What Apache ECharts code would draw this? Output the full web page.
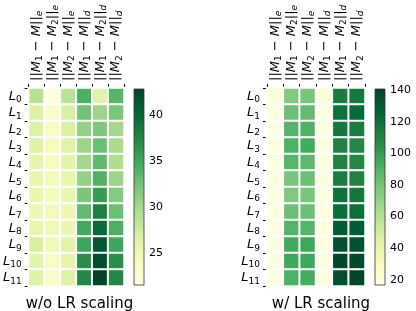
<!DOCTYPE html>
<html><head><meta charset="utf-8">
<script src="https://cdn.jsdelivr.net/npm/echarts@6.0.0/dist/echarts.min.js"></script>
<style>html,body{margin:0;padding:0;background:#fff}#c{width:416px;height:311px}</style>
</head><body><div id="c"></div>
<script>
// ---- data ----
const rowLabels = ['0','1','2','3','4','5','6','7','8','9','10','11'];
// column label parts: [first index, second index ('' = M), norm subscript]
const colParts = [['1','','e'],['1','2','e'],['2','','e'],['1','','d'],['1','2','d'],['2','','d']];
const leftValues = [
  [28.9,22.0,28.7,34.3,26.2,33.8],
  [26.6,23.4,26.8,32.4,30.4,32.0],
  [26.4,23.8,26.6,30.8,31.9,30.0],
  [26.3,24.2,26.2,30.4,32.8,29.6],
  [25.8,24.2,25.9,30.0,33.3,29.3],
  [25.4,24.3,25.5,30.8,34.2,30.4],
  [25.2,24.3,25.3,32.0,35.8,31.6],
  [25.0,24.5,25.0,33.2,37.9,32.7],
  [25.4,24.7,25.2,34.8,39.7,34.4],
  [26.9,24.7,26.2,35.2,41.4,35.2],
  [25.9,23.8,25.8,36.8,42.1,36.8],
  [26.3,23.4,26.4,37.3,42.8,37.3]
];
const rightValues = [
  [22,76,79,21,114,116],
  [18,82,85,19,120,124],
  [18,89,91,19,116,114],
  [18,91,94,19,111,109],
  [18,88,86,19,111,109],
  [18,79,82,19,114,111],
  [18,77,79,19,119,116],
  [18,82,82,19,122,121],
  [18,89,89,19,131,131],
  [18,94,96,19,135,135],
  [18,95,96,19,140,139],
  [18,91,93,19,137,141]
];
const leftRange = [21.5, 42.8];
const rightRange = [16.6, 141];
const leftTicks = [25,30,35,40];
const rightTicks = [20,40,60,80,100,120,140];
const titles = ['w/o LR scaling','w/ LR scaling'];

// ---- helpers ----
const FONT = 'DejaVu Sans';
const YlGn = ['#ffffe5','#f7fcb9','#d9f0a3','#addd8e','#78c679','#41ab5d','#238443','#006837','#004529'];
const colCats = colParts.map((p,i)=>'c'+i);
function colFmt(v){
  const p = colParts[+v.slice(1)];
  let s = '{b|||}{m|M}{s|'+p[0]+'}{b| − }{m|M}';
  if (p[1]) s += '{s|'+p[1]+'}';
  s += '{b|||}{si|'+p[2]+'}';
  return s;
}
function rowFmt(v){ return '{m|L}{s|'+v+'}'; }
const richCol = {
  b:{fontFamily:FONT,fontSize:13,lineHeight:16,color:'#000'},
  m:{fontFamily:FONT,fontSize:13,fontStyle:'italic',lineHeight:16,color:'#000'},
  s:{fontFamily:FONT,fontSize:9,lineHeight:9,verticalAlign:'bottom',color:'#000'},
  si:{fontFamily:FONT,fontSize:9,fontStyle:'italic',lineHeight:9,verticalAlign:'bottom',color:'#000'}
};
function toData(vals){
  const d=[];
  vals.forEach((r,i)=>r.forEach((v,j)=>d.push([j,i,v])));
  return d;
}
function cbRender(params, api){
  const a = api.coord([api.value(0), api.value(3)]);
  const b = api.coord([api.value(1), api.value(2)]);
  const stops = YlGn.map((c,i)=>({offset:i/(YlGn.length-1), color:c}));
  return {type:'rect', shape:{x:a[0], y:a[1], width:b[0]-a[0], height:b[1]-a[1]},
    style:{fill:new echarts.graphic.LinearGradient(0,1,0,0,stops), stroke:'#333', lineWidth:0.8}};
}

const hmGrids = [{left:25,top:88,width:99,height:198},{left:267,top:88,width:98,height:198}];
const cbGrids = [{left:134,top:89,width:10,height:196},{left:375,top:89,width:10,height:196}];

const option = {
  animation:false,
  backgroundColor:'#fff',
  title: titles.map((t,i)=>({text:t, left: hmGrids[i].left + hmGrids[i].width/2, top:292, textAlign:'center',
    textStyle:{fontFamily:FONT,fontSize:15,fontWeight:'normal',color:'#000'}})),
  grid: [...hmGrids, ...cbGrids],
  xAxis: [0,1].map(i=>({gridIndex:i,type:'category',data:colCats,position:'top',
      axisLine:{show:false},axisTick:{show:true,length:4,lineStyle:{color:'#000'}},
      axisLabel:{rotate:-90,margin:7,formatter:colFmt,rich:richCol},splitLine:{show:false}}))
    .concat([2,3].map(i=>({gridIndex:i,type:'value',min:0,max:1,show:false}))),
  yAxis: [0,1].map(i=>({gridIndex:i,type:'category',data:rowLabels,inverse:true,
      axisLine:{show:false},axisTick:{show:true,length:4,lineStyle:{color:'#000'}},
      axisLabel:{margin:7,formatter:rowFmt,rich:richCol},splitLine:{show:false}}))
    .concat([[2,leftRange,leftTicks],[3,rightRange,rightTicks]].map(([g,r,t])=>({gridIndex:g,type:'value',position:'right',
      min:r[0],max:r[1],axisLine:{show:false},splitLine:{show:false},
      axisTick:{show:true,length:3.5,customValues:t,lineStyle:{color:'#000'}},
      axisLabel:{margin:5,customValues:t,fontFamily:FONT,fontSize:11,color:'#000'}}))),
  visualMap:[
    {show:false,seriesIndex:0,min:leftRange[0],max:leftRange[1],inRange:{color:YlGn}},
    {show:false,seriesIndex:1,min:rightRange[0],max:rightRange[1],inRange:{color:YlGn}}
  ],
  series:[
    {type:'heatmap',xAxisIndex:0,yAxisIndex:0,data:toData(leftValues),itemStyle:{borderColor:'#fff',borderWidth:2}},
    {type:'heatmap',xAxisIndex:1,yAxisIndex:1,data:toData(rightValues),itemStyle:{borderColor:'#fff',borderWidth:2}},
    {type:'custom',xAxisIndex:2,yAxisIndex:2,renderItem:cbRender,data:[[0,1,leftRange[0],leftRange[1]]],silent:true},
    {type:'custom',xAxisIndex:3,yAxisIndex:3,renderItem:cbRender,data:[[0,1,rightRange[0],rightRange[1]]],silent:true}
  ]
};
const chart = echarts.init(document.getElementById('c'),null,{renderer:'canvas'});
chart.setOption(option);
</script></body></html>
